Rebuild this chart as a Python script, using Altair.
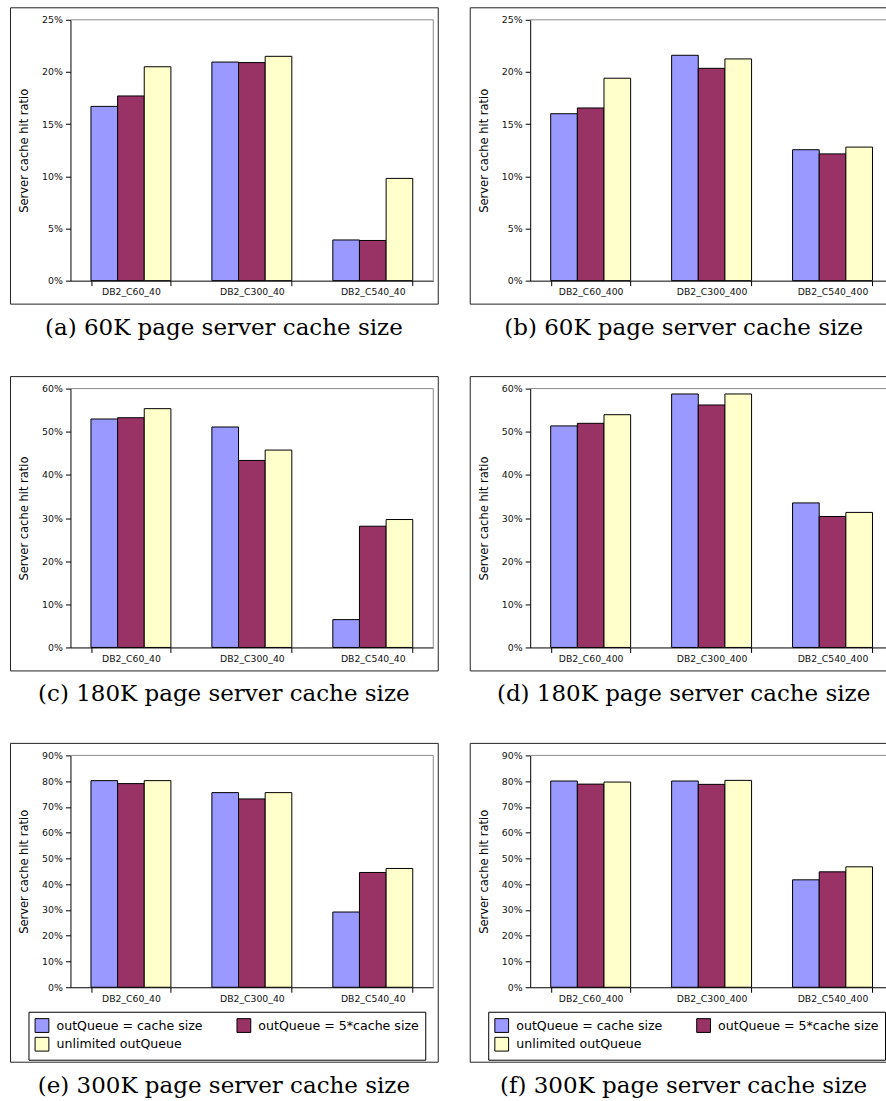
import altair as alt
import pandas as pd

# Series shown in every panel (legend order) and their bar fills
SERIES = ["outQueue = cache size", "outQueue = 5*cache size", "unlimited outQueue"]
COLORS = ["#9999ff", "#993366", "#ffffcc"]

# Workload categories on the x axis
CATS_40 = ["DB2_C60_40", "DB2_C300_40", "DB2_C540_40"]
CATS_400 = ["DB2_C60_400", "DB2_C300_400", "DB2_C540_400"]

# Server cache hit ratio (%) per category, one list per series
# (a) 60K page server cache, 40 clients
a_cache = [16.7, 20.95, 3.9]
a_five = [17.7, 20.9, 3.85]
a_unlim = [20.5, 21.5, 9.8]
# (b) 60K page server cache, 400 clients
b_cache = [16.0, 21.6, 12.55]
b_five = [16.55, 20.35, 12.15]
b_unlim = [19.4, 21.25, 12.8]
# (c) 180K page server cache, 40 clients
c_cache = [52.95, 51.1, 6.45]
c_five = [53.25, 43.35, 28.1]
c_unlim = [55.35, 45.75, 29.65]
# (d) 180K page server cache, 400 clients
d_cache = [51.35, 58.75, 33.5]
d_five = [51.95, 56.2, 30.35]
d_unlim = [53.95, 58.75, 31.3]
# (e) 300K page server cache, 40 clients
e_cache = [80.2, 75.55, 29.2]
e_five = [79.05, 73.1, 44.55]
e_unlim = [80.2, 75.55, 46.1]
# (f) 300K page server cache, 400 clients
f_cache = [80.05, 80.05, 41.7]
f_five = [78.85, 78.75, 44.8]
f_unlim = [79.65, 80.3, 46.75]

CAPTIONS = [
    "(a) 60K page server cache size",
    "(b) 60K page server cache size",
    "(c) 180K page server cache size",
    "(d) 180K page server cache size",
    "(e) 300K page server cache size",
    "(f) 300K page server cache size",
]

W = 363
SANS = "DejaVu Sans"
SERIF = "DejaVu Serif"


def panel(cats, cache, five, unlim, ymax, ystep, h, caption, with_legend):
    rows = []
    for s, vals in zip(SERIES, [cache, five, unlim]):
        for c, v in zip(cats, vals):
            rows.append({"category": c, "series": s, "ratio": v / 100.0})
    df = pd.DataFrame(rows)
    one = pd.DataFrame({"k": [0]})

    n_ticks = int(round(ymax / ystep))
    ticks = [round(i * ystep, 4) for i in range(n_ticks + 1)]

    if with_legend:
        legend = alt.Legend(
            title=None, orient="none", legendX=-42, legendY=h + 24.5,
            columns=2, direction="horizontal", symbolType="square",
            symbolSize=190, symbolStrokeColor="black", symbolStrokeWidth=1,
            labelFont=SANS, labelFontSize=12.6, labelColor="black",
            labelOffset=7, labelLimit=400, columnPadding=31, rowPadding=0,
            padding=6, strokeColor="black", fillColor="white",
        )
        frame_bottom = h + 75
    else:
        legend = None
        frame_bottom = h + 23.5

    bars = alt.Chart(df).mark_bar(stroke="black", strokeWidth=1).encode(
        x=alt.X(
            "category:N", sort=cats,
            scale=alt.Scale(paddingInner=0.339, paddingOuter=0.1695),
            axis=alt.Axis(
                title=None, labelAngle=0, tickBand="extent", tickSize=5,
                domainColor="black", tickColor="black", labelColor="#111",
                labelFont=SANS, labelFontSize=9.3, labelPadding=2,
            ),
        ),
        xOffset=alt.XOffset(
            "series:N", sort=SERIES,
            scale=alt.Scale(paddingInner=0, paddingOuter=0),
        ),
        y=alt.Y(
            "ratio:Q",
            scale=alt.Scale(domain=[0, ymax], nice=False, zero=True),
            axis=alt.Axis(
                values=ticks, format=".0%", grid=False, tickSize=5,
                domainColor="black", tickColor="black", labelColor="#111",
                labelFont=SANS, labelFontSize=9.4, labelPadding=3,
                title="Server cache hit ratio", titleFont=SANS,
                titleFontSize=11.5, titleFontWeight="normal",
                titleColor="black", titleAngle=270, titleX=-46,
                titleY=h / 2, titleAlign="center", titleBaseline="middle",
            ),
        ),
        color=alt.Color(
            "series:N", sort=SERIES,
            scale=alt.Scale(domain=SERIES, range=COLORS),
            legend=legend,
        ),
    )

    # grey plot-area border on the top and right edges
    top_edge = alt.Chart(one).mark_rule(color="#8c8c8c", strokeWidth=1).encode(
        x=alt.value(0), x2=alt.value(W), y=alt.value(0)
    )
    right_edge = alt.Chart(one).mark_rule(color="#8c8c8c", strokeWidth=1).encode(
        x=alt.value(W), y=alt.value(0), y2=alt.value(h)
    )
    # outer chart frame around axes, labels and legend
    frame = alt.Chart(one).mark_rect(
        filled=False, stroke="#222", strokeWidth=1
    ).encode(
        x=alt.value(-60), x2=alt.value(W + 5),
        y=alt.value(-12), y2=alt.value(frame_bottom),
    )

    return alt.layer(frame, top_edge, right_edge, bars).properties(
        width=W, height=h,
        title=alt.TitleParams(
            text=caption, orient="bottom", font=SERIF, fontSize=23,
            fontWeight="normal", color="black", offset=12, dx=-28,
        ),
    )


panels = [
    panel(CATS_40, a_cache, a_five, a_unlim, 0.25, 0.05, 261, CAPTIONS[0], False),
    panel(CATS_400, b_cache, b_five, b_unlim, 0.25, 0.05, 261, CAPTIONS[1], False),
    panel(CATS_40, c_cache, c_five, c_unlim, 0.6, 0.1, 259, CAPTIONS[2], False),
    panel(CATS_400, d_cache, d_five, d_unlim, 0.6, 0.1, 259, CAPTIONS[3], False),
    panel(CATS_40, e_cache, e_five, e_unlim, 0.9, 0.1, 232, CAPTIONS[4], True),
    panel(CATS_400, f_cache, f_five, f_unlim, 0.9, 0.1, 232, CAPTIONS[5], True),
]

chart = alt.concat(
    *panels, columns=2, spacing={"row": 108, "column": 97},
    bounds="flush", align="each",
).resolve_scale(color="independent").properties(
    padding={"left": 9.5, "top": 6.5, "right": -13, "bottom": 0},
    background="white",
).configure_view(stroke=None)

chart.save("out.html", embed_options={"renderer": "svg", "actions": False})
